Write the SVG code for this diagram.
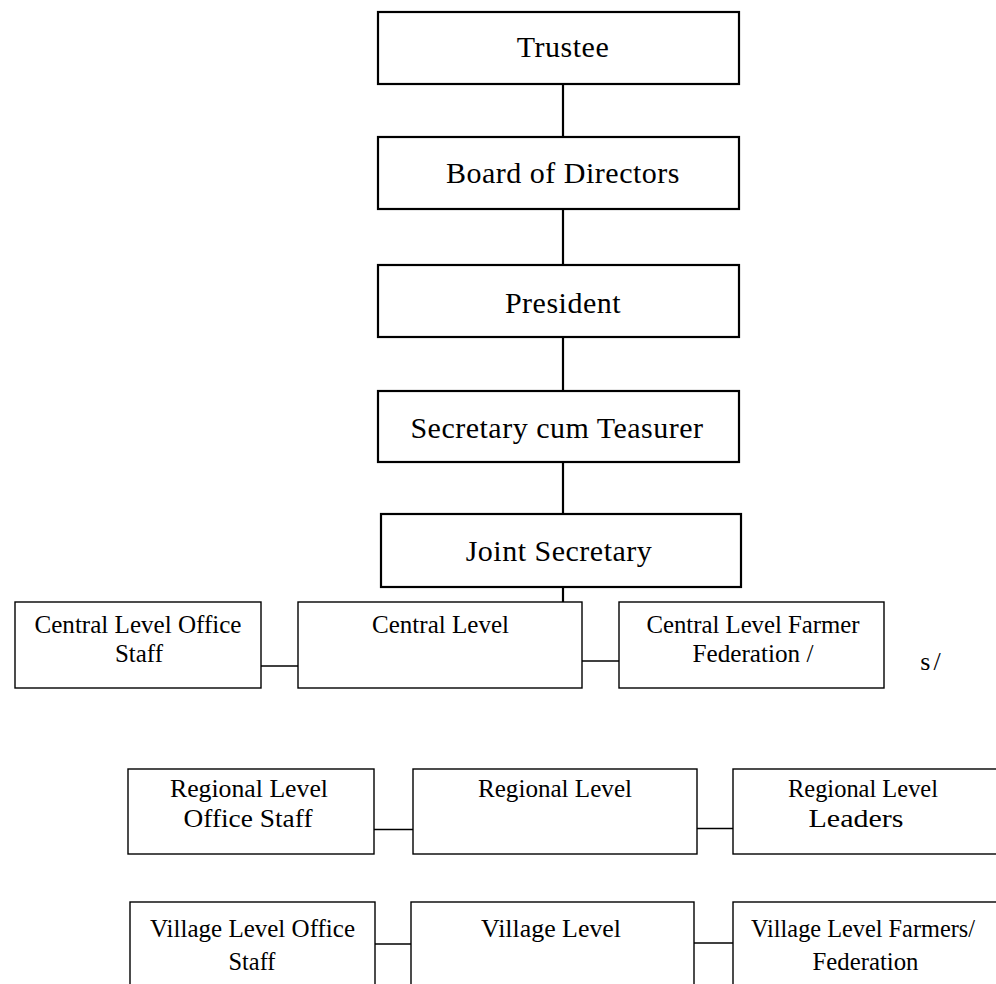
<svg xmlns="http://www.w3.org/2000/svg" width="996" height="984" viewBox="0 0 996 984">
<style>
.top{fill:#fff;stroke:#000;stroke-width:2.2}
.low{fill:#fff;stroke:#000;stroke-width:1.4}
.t1{font-family:"Liberation Serif","Times New Roman",serif;font-size:30px;letter-spacing:0.5px;text-anchor:middle;fill:#000}
.t2{font-family:"Liberation Serif","Times New Roman",serif;font-size:26px;text-anchor:middle;fill:#000}
.vc{stroke:#000;stroke-width:2.2;fill:none}
.hc{stroke:#000;stroke-width:1.4;fill:none}
</style>
<rect width="996" height="984" fill="#fff"/>
<g id="connectors">
<line class="vc" x1="563" y1="84" x2="563" y2="137"/>
<line class="vc" x1="563" y1="209" x2="563" y2="265"/>
<line class="vc" x1="563" y1="337" x2="563" y2="391"/>
<line class="vc" x1="563" y1="462" x2="563" y2="514"/>
<line class="vc" x1="563" y1="587" x2="563" y2="602"/>
<line class="hc" x1="261" y1="666" x2="298" y2="666"/>
<line class="hc" x1="582" y1="661" x2="619" y2="661"/>
<line class="hc" x1="374" y1="829.5" x2="413" y2="829.5"/>
<line class="hc" x1="697" y1="828.5" x2="733" y2="828.5"/>
<line class="hc" x1="375" y1="944" x2="413" y2="944"/>
<line class="hc" x1="694" y1="943" x2="733" y2="943"/>
</g>
<g id="trustee">
<rect class="top" x="378" y="12" width="361" height="72"/>
<text class="t1" x="563" y="57">Trustee</text>
</g>
<g id="board">
<rect class="top" x="378" y="137" width="361" height="72"/>
<text class="t1" x="563" y="183">Board of Directors</text>
</g>
<g id="president">
<rect class="top" x="378" y="265" width="361" height="72"/>
<text class="t1" x="563" y="313">President</text>
</g>
<g id="secretary">
<rect class="top" x="378" y="391" width="361" height="71"/>
<text class="t1" x="557" y="438">Secretary cum Teasurer</text>
</g>
<g id="joint-secretary">
<rect class="top" x="381" y="514" width="360" height="73"/>
<text class="t1" x="559" y="561">Joint Secretary</text>
</g>
<g id="central-office-staff">
<rect class="low" x="15" y="602" width="246" height="86"/>
<text class="t2" x="138" y="633" textLength="207" lengthAdjust="spacingAndGlyphs">Central Level Office</text>
<text class="t2" x="139" y="662" textLength="48" lengthAdjust="spacingAndGlyphs">Staff</text>
</g>
<g id="central-level">
<rect class="low" x="298" y="602" width="284" height="86"/>
<text class="t2" x="440.5" y="633" textLength="137" lengthAdjust="spacingAndGlyphs">Central Level</text>
</g>
<g id="central-farmer-federation">
<rect class="low" x="619" y="602" width="265" height="86"/>
<text class="t2" x="753" y="633" textLength="213" lengthAdjust="spacingAndGlyphs">Central Level Farmer</text>
<text class="t2" x="753" y="662" textLength="121" lengthAdjust="spacingAndGlyphs">Federation /</text>
</g>
<text class="t2" x="932" y="670" style="letter-spacing:3px">s/</text>
<g id="regional-office-staff">
<rect class="low" x="128" y="769" width="246" height="85"/>
<text class="t2" x="249" y="797" textLength="158" lengthAdjust="spacingAndGlyphs">Regional Level</text>
<text class="t2" x="248" y="827" textLength="129" lengthAdjust="spacingAndGlyphs">Office Staff</text>
</g>
<g id="regional-level">
<rect class="low" x="413" y="769" width="284" height="85"/>
<text class="t2" x="555" y="797" textLength="154" lengthAdjust="spacingAndGlyphs">Regional Level</text>
</g>
<g id="regional-leaders">
<rect class="low" x="733" y="769" width="280" height="85"/>
<text class="t2" x="863" y="797" textLength="150" lengthAdjust="spacingAndGlyphs">Regional Level</text>
<text class="t2" x="856" y="827" textLength="95" lengthAdjust="spacingAndGlyphs">Leaders</text>
</g>
<g id="village-office-staff">
<rect class="low" x="130" y="902" width="245" height="100"/>
<text class="t2" x="252.5" y="937" textLength="205" lengthAdjust="spacingAndGlyphs">Village Level Office</text>
<text class="t2" x="252" y="970" textLength="47" lengthAdjust="spacingAndGlyphs">Staff</text>
</g>
<g id="village-level">
<rect class="low" x="411" y="902" width="283" height="100"/>
<text class="t2" x="551" y="937" textLength="140" lengthAdjust="spacingAndGlyphs">Village Level</text>
</g>
<g id="village-farmers-federation">
<rect class="low" x="733" y="902" width="280" height="100"/>
<text class="t2" x="863" y="937" textLength="224" lengthAdjust="spacingAndGlyphs">Village Level Farmers/</text>
<text class="t2" x="865.5" y="970" textLength="106" lengthAdjust="spacingAndGlyphs">Federation</text>
</g>
</svg>
